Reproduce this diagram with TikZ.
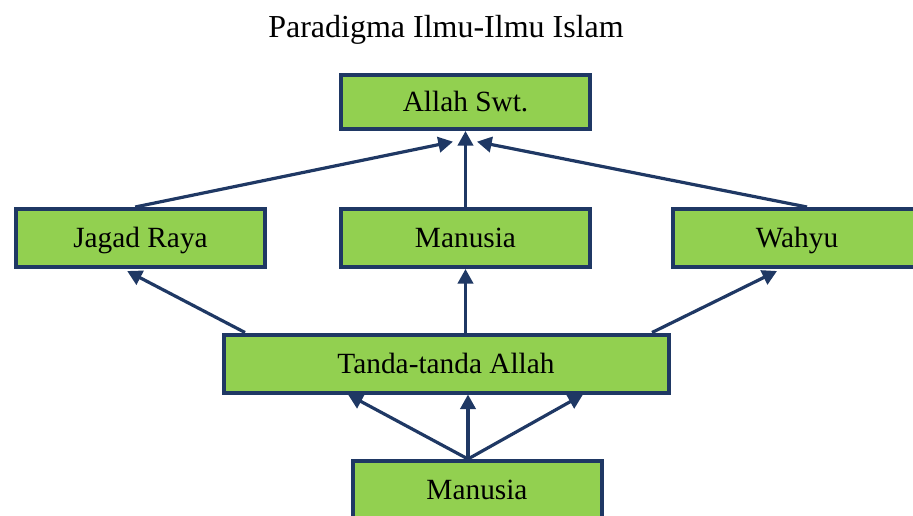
\documentclass[tikz,border=0pt]{standalone}
\usepackage{fontspec}
\setmainfont{Liberation Serif}
\usepackage{tikz}
\usetikzlibrary{arrows.meta}
\definecolor{kotak}{RGB}{146,208,80}
\definecolor{garis}{RGB}{31,56,100}
\tikzset{
	kotak/.style={draw=garis, fill=kotak, line width=3pt, minimum width=186.75pt, minimum height=43.5pt, inner sep=0pt, text height=14.5pt, text depth=0pt, font=\fontsize{22}{26}\selectfont},
	panah/.style={draw=garis, line width=2.4pt, -{Triangle[length=11pt, width=11.5pt]}}
}

\begin{document}
\begin{tikzpicture}[x=0.75pt, y=-0.75pt]
				\clip (0,0) rectangle (913,515);
				\node[font=\fontsize{24}{28}\selectfont] (judul) at (446,30) {Paradigma Ilmu-Ilmu Islam};
				\node[kotak, minimum height=40.5pt] (allah) at (465.5,102) {Allah Swt.};
				\node[kotak] (jagad) at (140.5,238) {Jagad Raya};
				\node[kotak] (manusia) at (465.5,238) {Manusia};
				\node[kotak] (wahyu) at (797,238) {Wahyu};
				\node[kotak, minimum width=333.75pt] (tanda) at (446,363.5) {Tanda-tanda Allah};
				\node[kotak] (manusiab) at (477,490) {Manusia};
				% ke atas
				\draw[panah] ([xshift=-4pt]jagad.north) -- ([xshift=-9.4pt, yshift=-8pt]allah.south);
				\draw[panah] (manusia.north) -- (allah.south);
				\draw[panah] ([xshift=7.5pt]wahyu.north) -- ([xshift=8.6pt, yshift=-8pt]allah.south);
				% dari tanda-tanda
				\draw[panah] ([xshift=-150.75pt]tanda.north) -- ([xshift=-10pt, yshift=-1.5pt]jagad.south);
				\draw[panah] (tanda.north -| manusia.south) -- (manusia.south);
				\draw[panah] ([xshift=154.5pt]tanda.north) -- ([xshift=-15pt, yshift=-1.5pt]wahyu.south);
				% dari manusia bawah
				\foreach \dx in {-73.5,16.5,102.75} {
					\draw[panah] ([xshift=-6.75pt]manusiab.north) -- ([xshift=\dx pt]tanda.south);
				}
			\end{tikzpicture}
\end{document}
